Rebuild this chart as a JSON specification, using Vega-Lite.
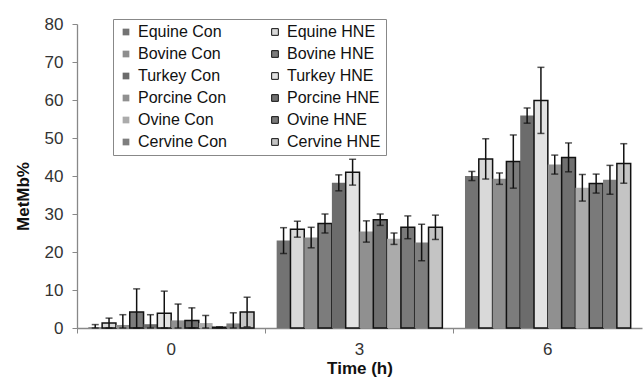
{
  "$schema": "https://vega.github.io/schema/vega-lite/v6.json",
  "autosize": {"type": "none"},
  "width": 565,
  "height": 304,
  "padding": {"left": 77, "top": 24, "right": 1, "bottom": 54},
  "background": "white",
  "config": {
    "view": {"stroke": null},
    "font": "Liberation Sans",
    "axisY": {
      "titleFontSize": 17, "titleFontWeight": "bold", "titleColor": "#111",
      "labelFontSize": 17, "labelColor": "#333", "labelPadding": 9,
      "grid": false, "domainColor": "#888", "tickColor": "#888", "tickSize": 5, "domainWidth": 1.3
    }
  },
  "data": {
    "values": [
      {"time": "0", "series": "Equine Con", "v": 0.2, "lo": 0, "hi": 0.9},
      {"time": "0", "series": "Equine HNE", "v": 1.3, "lo": 0, "hi": 2.6},
      {"time": "0", "series": "Bovine Con", "v": 0.8, "lo": 0, "hi": 3.5},
      {"time": "0", "series": "Bovine HNE", "v": 4.2, "lo": 0, "hi": 10.3},
      {"time": "0", "series": "Turkey Con", "v": 1.0, "lo": 0, "hi": 3.5},
      {"time": "0", "series": "Turkey HNE", "v": 3.9, "lo": 0, "hi": 9.7},
      {"time": "0", "series": "Porcine Con", "v": 2.0, "lo": 0, "hi": 6.3},
      {"time": "0", "series": "Porcine HNE", "v": 2.0, "lo": 0, "hi": 5.3},
      {"time": "0", "series": "Ovine Con", "v": 1.3, "lo": 0, "hi": 3.3},
      {"time": "0", "series": "Ovine HNE", "v": 0.2, "lo": 0.1, "hi": 0.3},
      {"time": "0", "series": "Cervine Con", "v": 1.2, "lo": 0, "hi": 4.0},
      {"time": "0", "series": "Cervine HNE", "v": 4.2, "lo": 0.3, "hi": 8.1},
      {"time": "3", "series": "Equine Con", "v": 23.0, "lo": 19.6, "hi": 26.4},
      {"time": "3", "series": "Equine HNE", "v": 26.0, "lo": 23.9, "hi": 28.1},
      {"time": "3", "series": "Bovine Con", "v": 23.8, "lo": 21.1, "hi": 26.5},
      {"time": "3", "series": "Bovine HNE", "v": 27.5, "lo": 25.0, "hi": 30.0},
      {"time": "3", "series": "Turkey Con", "v": 38.2, "lo": 36.1, "hi": 40.3},
      {"time": "3", "series": "Turkey HNE", "v": 41.0, "lo": 37.6, "hi": 44.4},
      {"time": "3", "series": "Porcine Con", "v": 25.4, "lo": 22.6, "hi": 28.2},
      {"time": "3", "series": "Porcine HNE", "v": 28.5, "lo": 27.0, "hi": 30.0},
      {"time": "3", "series": "Ovine Con", "v": 23.5, "lo": 22.0, "hi": 25.0},
      {"time": "3", "series": "Ovine HNE", "v": 26.5, "lo": 23.5, "hi": 29.5},
      {"time": "3", "series": "Cervine Con", "v": 22.5, "lo": 17.7, "hi": 27.3},
      {"time": "3", "series": "Cervine HNE", "v": 26.5, "lo": 23.3, "hi": 29.7},
      {"time": "6", "series": "Equine Con", "v": 40.0, "lo": 38.8, "hi": 41.2},
      {"time": "6", "series": "Equine HNE", "v": 44.5, "lo": 39.2, "hi": 49.8},
      {"time": "6", "series": "Bovine Con", "v": 39.3, "lo": 37.8, "hi": 40.8},
      {"time": "6", "series": "Bovine HNE", "v": 43.8, "lo": 36.8, "hi": 50.8},
      {"time": "6", "series": "Turkey Con", "v": 55.9, "lo": 53.9, "hi": 57.9},
      {"time": "6", "series": "Turkey HNE", "v": 59.9, "lo": 51.2, "hi": 68.6},
      {"time": "6", "series": "Porcine Con", "v": 43.0, "lo": 40.5, "hi": 45.5},
      {"time": "6", "series": "Porcine HNE", "v": 44.9, "lo": 41.1, "hi": 48.7},
      {"time": "6", "series": "Ovine Con", "v": 36.9, "lo": 33.4, "hi": 40.4},
      {"time": "6", "series": "Ovine HNE", "v": 38.0, "lo": 35.5, "hi": 40.5},
      {"time": "6", "series": "Cervine Con", "v": 39.0, "lo": 35.2, "hi": 42.8},
      {"time": "6", "series": "Cervine HNE", "v": 43.3, "lo": 38.1, "hi": 48.5}
    ]
  },
  "encoding": {
    "x": {
      "field": "time", "type": "nominal", "sort": ["0", "3", "6"],
      "scale": {"paddingInner": 0, "paddingOuter": 0},
      "axis": {
        "title": "Time (h)", "titleFontSize": 17, "titleFontWeight": "bold", "titleColor": "#111",
        "titlePadding": 3,
        "labelAngle": 0, "labelFontSize": 17, "labelColor": "#333", "labelPadding": 8,
        "bandPosition": 0,
        "domainColor": "#888", "tickColor": "#888", "tickSize": 5, "domainWidth": 1.3
      }
    },
    "xOffset": {
      "field": "series", "type": "nominal",
      "sort": ["Equine Con", "Equine HNE", "Bovine Con", "Bovine HNE", "Turkey Con", "Turkey HNE", "Porcine Con", "Porcine HNE", "Ovine Con", "Ovine HNE", "Cervine Con", "Cervine HNE"],
      "scale": {"paddingInner": 0, "paddingOuter": 0.82}
    }
  },
  "layer": [
    {
      "mark": {"type": "bar", "strokeWidth": 1.5},
      "encoding": {
        "y": {
          "field": "v", "type": "quantitative",
          "scale": {"domain": [0, 80], "nice": false},
          "axis": {"title": "MetMb%", "titlePadding": 12, "titleY": 172, "values": [0, 10, 20, 30, 40, 50, 60, 70, 80]}
        },
        "color": {
          "field": "series", "type": "nominal",
          "scale": {
            "domain": ["Equine Con", "Bovine Con", "Turkey Con", "Porcine Con", "Ovine Con", "Cervine Con", "Equine HNE", "Bovine HNE", "Turkey HNE", "Porcine HNE", "Ovine HNE", "Cervine HNE"],
            "range": ["#737373", "#8e8e8e", "#6c6c6c", "#909090", "#ababab", "#7e7e7e", "#d9d9d9", "#7c7c7c", "#e2e2e2", "#707070", "#7a7a7a", "#c4c4c4"]
          },
          "legend": {
            "title": null, "orient": "none", "legendX": 36, "legendY": -5,
            "columns": 2, "columnPadding": 40, "rowPadding": 6,
            "labelFontSize": 16, "labelColor": "#111", "labelOffset": 4, "labelLimit": 200,
            "symbolType": "square", "symbolSize": 45, "symbolStrokeWidth": 1,
            "strokeColor": "#888", "padding": 5
          }
        },
        "stroke": {
          "field": "series", "type": "nominal",
          "scale": {
            "domain": ["Equine Con", "Bovine Con", "Turkey Con", "Porcine Con", "Ovine Con", "Cervine Con", "Equine HNE", "Bovine HNE", "Turkey HNE", "Porcine HNE", "Ovine HNE", "Cervine HNE"],
            "range": ["transparent", "transparent", "transparent", "transparent", "transparent", "transparent", "#111", "#111", "#111", "#111", "#111", "#111"]
          }
        }
      }
    },
    {
      "mark": {"type": "rule", "color": "#111", "strokeWidth": 1.5},
      "encoding": {
        "y": {"field": "lo", "type": "quantitative", "axis": {"title": "MetMb%", "titlePadding": 12, "titleY": 172, "values": [0, 10, 20, 30, 40, 50, 60, 70, 80]}},
        "y2": {"field": "hi"}
      }
    },
    {
      "mark": {"type": "tick", "color": "#111", "size": 7, "thickness": 1.5},
      "encoding": {
        "y": {"field": "hi", "type": "quantitative", "axis": {"title": "MetMb%", "titlePadding": 12, "titleY": 172, "values": [0, 10, 20, 30, 40, 50, 60, 70, 80]}}
      }
    },
    {
      "mark": {"type": "tick", "color": "#111", "size": 7, "thickness": 1.5},
      "encoding": {
        "y": {"field": "lo", "type": "quantitative", "axis": {"title": "MetMb%", "titlePadding": 12, "titleY": 172, "values": [0, 10, 20, 30, 40, 50, 60, 70, 80]}}
      }
    }
  ]
}
